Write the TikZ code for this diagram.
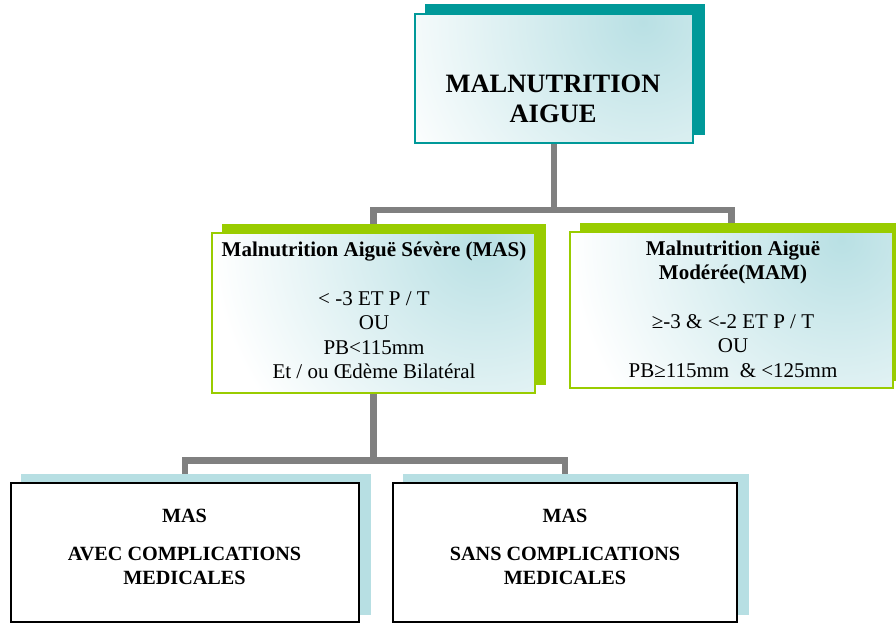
\documentclass[tikz,border=0pt]{standalone}
\usepackage{fontspec}
\setmainfont{Liberation Serif}
\usetikzlibrary{calc}
\pgfdeclarelayer{background}
\pgfsetlayers{background,main}
\definecolor{tealdark}{RGB}{0,153,153}
\definecolor{limegreen}{RGB}{153,204,0}
\definecolor{paleblue}{RGB}{183,223,227}
\definecolor{gradblue}{RGB}{185,224,228}
\definecolor{linkgray}{RGB}{128,128,128}
\newcommand\boxshadow[3]{%
  \fill[#2] ($(#1.south west)+(#3)$) rectangle ($(#1.north east)+(#3)$);}
\tikzset{
  box/.style={rectangle, inner sep=0pt, fill=white},
  tinted/.style={path picture={\shade[inner color=gradblue, outer color=white]
      ($(path picture bounding box.north east)+(-320,-262)$) rectangle ++(540,540);}},
  headbox/.style={box, tinted, draw=tealdark, line width=1.5pt},
  classbox/.style={box, tinted, draw=limegreen, line width=1.5pt},
  casebox/.style={box, draw=black, line width=2pt},
  link/.style={draw=linkgray, line width=6.5pt, line join=miter},
  txt/.style={align=center, inner sep=0pt},
}
\begin{document}
\begin{tikzpicture}[x=1pt, y=-1pt]
\useasboundingbox (0,0) rectangle (896,623);

% boxes
\node[headbox,  minimum width=278pt, minimum height=129pt] (top)   at (554,78.5)   {};
\node[classbox, minimum width=323pt, minimum height=160pt] (mas)   at (373.5,313)  {};
\node[classbox, minimum width=323pt, minimum height=156pt] (mam)   at (731.5,310)  {};
\node[casebox,  minimum width=348pt, minimum height=139pt] (avec)  at (185,552.5)  {};
\node[casebox,  minimum width=344pt, minimum height=139pt] (sans)  at (565,552.5)  {};

% texts
\node[txt, font=\fontsize{26.5pt}{30pt}\selectfont\bfseries] (toptxt) at (553,99.3)
  {MALNUTRITION\\AIGUE};
\node[txt, font=\fontsize{21pt}{24.3pt}\selectfont] (mastxt) at (374,310.5)
  {\textbf{Malnutrition Aiguë Sévère (MAS)}\\[24.3pt]
   < -3 ET P / T\\OU\\PB<115mm\\Et / ou Œdème Bilatéral};
\node[txt, font=\fontsize{21pt}{24.4pt}\selectfont] (mamtxt) at (733,309)
  {\textbf{Malnutrition Aiguë}\\\textbf{Modérée(MAM)}\\[24.4pt]
   ≥-3 \& <-2 ET P / T\\OU\\PB≥115mm \ \& <125mm};
\node[txt, font=\fontsize{20.2pt}{24pt}\selectfont\bfseries] (avectxt) at (184.5,546.5)
  {MAS\\[14pt]AVEC COMPLICATIONS\\MEDICALES};
\node[txt, font=\fontsize{20.2pt}{24pt}\selectfont\bfseries] (sanstxt) at (565,546.5)
  {MAS\\[14pt]SANS COMPLICATIONS\\MEDICALES};

\begin{pgfonlayer}{background}
  % connectors
  \draw[link] (top.south) -- ++(0,66) coordinate (bus1) -| (mas.north);
  \draw[link] (bus1) -| (mam.north);
  \draw[link] (mas.south) -- ++(0,66.5) coordinate (bus2) -| (avec.north);
  \draw[link] (bus2) -| (sans.north);
  % offset shadows
  \boxshadow{top}{tealdark}{11,-9}
  \boxshadow{mas}{limegreen}{10.5,-8.5}
  \boxshadow{mam}{limegreen}{11,-8}
  \boxshadow{avec}{paleblue}{10.5,-8}
  \boxshadow{sans}{paleblue}{10.5,-8}
\end{pgfonlayer}
\end{tikzpicture}
\end{document}
